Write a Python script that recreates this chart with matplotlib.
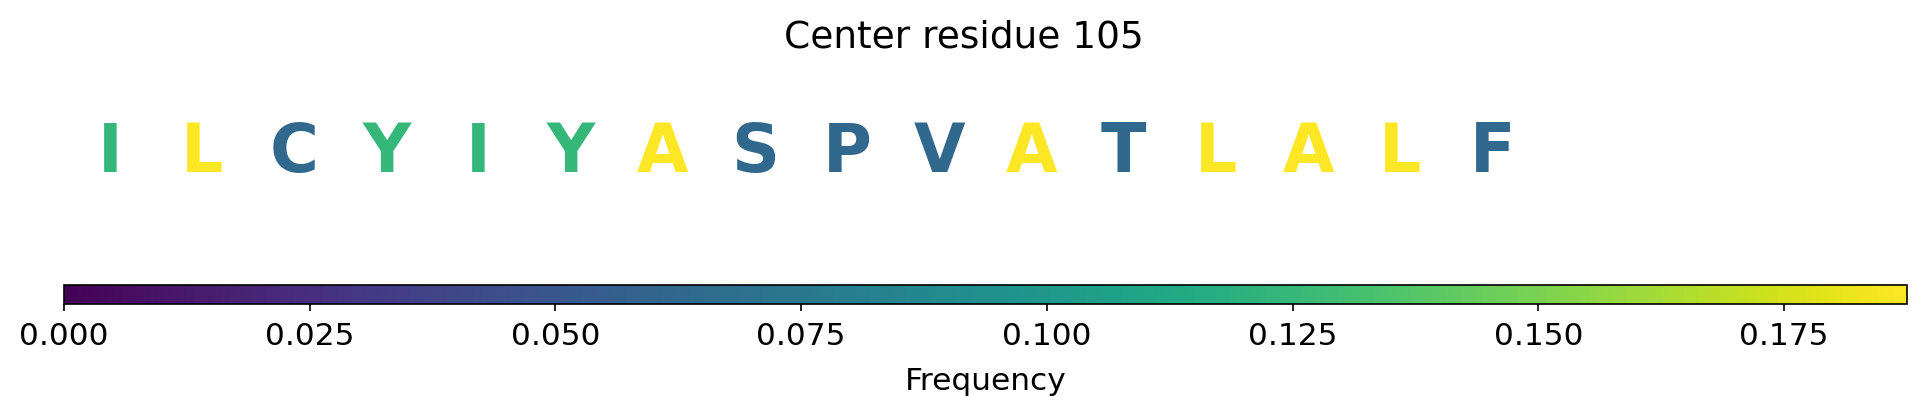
import matplotlib
matplotlib.use("Agg")
import matplotlib.pyplot as plt
import numpy as np
from matplotlib import cm, colors

residues = ["I", "L", "C", "Y", "I", "Y", "A", "S", "P", "V", "A", "T", "L", "A", "L", "F"]
frequencies = [0.125, 0.1875, 0.0625, 0.125, 0.125, 0.125, 0.1875, 0.0625,
               0.0625, 0.0625, 0.1875, 0.0625, 0.1875, 0.1875, 0.1875, 0.0625]
title = "Center residue 105"
vmin, vmax = 0.0, 0.1875
n_slots = 20

W, H, DPI = 1927, 416, 150
fig = plt.figure(figsize=(W / DPI, H / DPI), dpi=DPI)

left = 64 / W
right = 1907 / W
cb_top = 285
cb_bot = 304
cax = fig.add_axes([left, 1 - cb_bot / H, right - left, (cb_bot - cb_top) / H])

# letter axes
ax = fig.add_axes([left, 1 - 215 / H, right - left, (215 - 75) / H])
ax.set_xlim(0, n_slots)
ax.set_ylim(0, 1)
ax.axis("off")

norm = colors.Normalize(vmin=vmin, vmax=vmax)
cmap = plt.get_cmap("viridis")
yc = 1 - (153 - 75) / (215 - 75)
for i, (r, f) in enumerate(zip(residues, frequencies)):
    ax.text(i + 0.5, yc, r, ha="center", va="center", fontsize=32,
            fontweight="bold", color=cmap(norm(f)))

sm = cm.ScalarMappable(norm=norm, cmap=cmap)
cb = fig.colorbar(sm, cax=cax, orientation="horizontal")
cb.set_ticks([0.0, 0.025, 0.05, 0.075, 0.1, 0.125, 0.15, 0.175])
cb.ax.tick_params(labelsize=15, pad=5)
cb.set_label("Frequency", fontsize=15, labelpad=8)

fig.text(0.5, 1 - 38 / H, title, ha="center", va="center", fontsize=18)

fig.savefig("out.png", dpi=DPI)
